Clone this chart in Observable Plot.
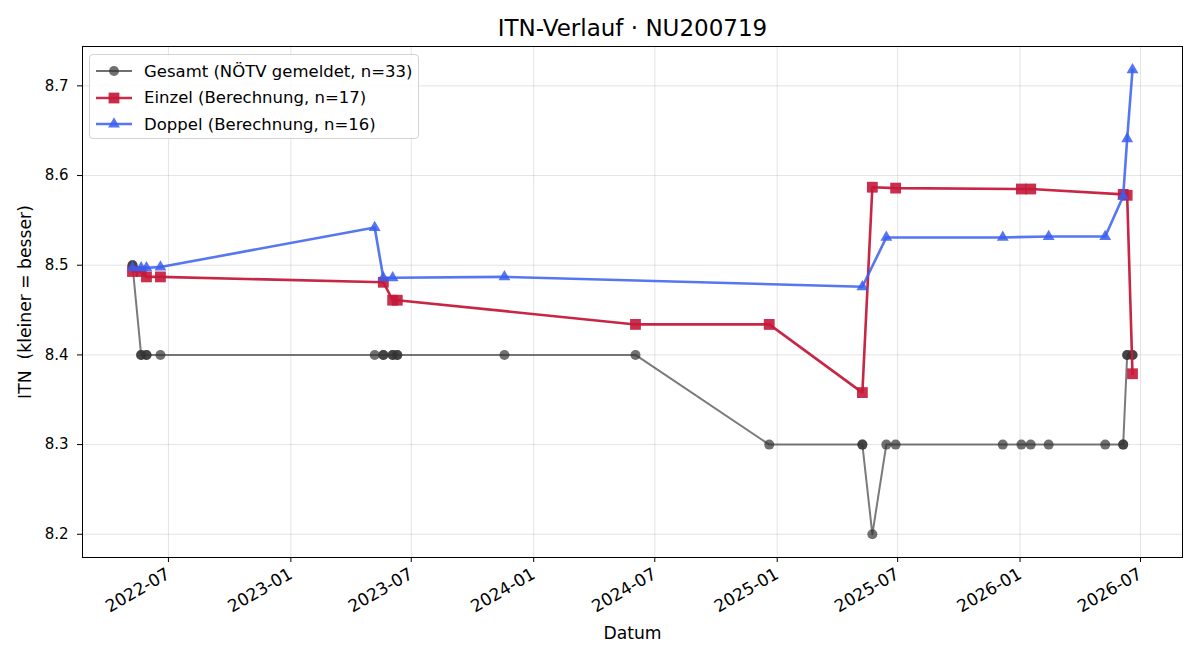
<!DOCTYPE html>
<html>
<head>
<meta charset="utf-8">
<script src="https://cdn.jsdelivr.net/npm/d3@7"></script>
<script src="https://cdn.jsdelivr.net/npm/@observablehq/plot@0.6"></script>
<style>
  body { margin: 0; background: #fff; }
  #wrap { position: relative; width: 1200px; height: 660px; font-family: "DejaVu Sans", sans-serif; }
  #legend { position: absolute; left: 89px; top: 54px; width: 330px; height: 85px; box-sizing: border-box;
            border: 1px solid #d3d3d3; border-radius: 4px; background: rgba(255,255,255,0.85); }
  .row { position: absolute; left: 5px; height: 20px; display: flex; align-items: center; font-size: 16.5px; color: #000; white-space: pre; }
  .row svg { margin-right: 11px; }
</style>
</head>
<body>
<div id="wrap"></div>
<script>
// ---------- data ----------
const gesamtDates = ["2022-05-08","2022-05-08","2022-05-21","2022-05-21","2022-05-29","2022-05-29","2022-06-19",
  "2023-05-07","2023-05-20","2023-05-20","2023-06-03","2023-06-03","2023-06-10","2023-06-10",
  "2023-11-18","2024-06-02","2024-12-20","2025-05-09","2025-05-09","2025-05-24","2025-06-14","2025-06-28",
  "2025-12-06","2026-01-03","2026-01-17","2026-02-13","2026-05-09","2026-06-05","2026-06-05",
  "2026-06-11","2026-06-11","2026-06-19","2026-06-19"];
const gesamtValues = [8.5,8.5,8.4,8.4,8.4,8.4,8.4,
  8.4,8.4,8.4,8.4,8.4,8.4,8.4,
  8.4,8.4,8.3,8.3,8.3,8.2,8.3,8.3,
  8.3,8.3,8.3,8.3,8.3,8.3,8.3,
  8.4,8.4,8.4,8.4];

const einzelDates = ["2022-05-08","2022-05-21","2022-05-29","2022-06-19","2023-05-20","2023-06-03","2023-06-10",
  "2024-06-02","2024-12-20","2025-05-09","2025-05-24","2025-06-28","2026-01-03","2026-01-17",
  "2026-06-05","2026-06-11","2026-06-19"];
const einzelValues = [8.493,8.493,8.487,8.487,8.481,8.461,8.461,
  8.434,8.434,8.358,8.587,8.586,8.585,8.585,
  8.579,8.578,8.379];

const doppelDates = ["2022-05-08","2022-05-21","2022-05-29","2022-06-19","2023-05-07","2023-05-20","2023-06-03",
  "2023-11-18","2025-05-09","2025-06-14","2025-12-06","2026-02-13","2026-05-09",
  "2026-06-05","2026-06-11","2026-06-19"];
const doppelValues = [8.497,8.497,8.497,8.498,8.542,8.486,8.486,
  8.487,8.476,8.531,8.531,8.532,8.532,
  8.577,8.641,8.718];

const xTickLabels = ["2022-07","2023-01","2023-07","2024-01","2024-07","2025-01","2025-07","2026-01","2026-07"];
const yTicks = [8.2, 8.3, 8.4, 8.5, 8.6, 8.7];

const seriesNames = ["Gesamt (NÖTV gemeldet, n=33)", "Einzel (Berechnung, n=17)", "Doppel (Berechnung, n=16)"];
const seriesColors = ["#333333", "#c41a3a", "#3a5ef0"];
const seriesSymbols = ["circle", "square", "triangle"];

const titleText = "ITN-Verlauf · NU200719";
const xLabel = "Datum";
const yLabel = "ITN\u00a0\u00a0(kleiner = besser)";

// ---------- tables ----------
const toRows = (dates, vals) => dates.map((d, i) => ({date: new Date(d + "T00:00:00Z"), v: vals[i]}));
const gesamt = toRows(gesamtDates, gesamtValues);
const einzel = toRows(einzelDates, einzelValues);
const doppel = toRows(doppelDates, doppelValues);
const all = [...gesamt, ...einzel, ...doppel];
const xTicks = xTickLabels.map(s => new Date(s + "-01T00:00:00Z"));

const [x0, x1] = d3.extent(all, d => +d.date);
const [y0, y1] = d3.extent(all, d => d.v);
const xPad = (x1 - x0) * 0.05, yPad = (y1 - y0) * 0.05;

const chart = Plot.plot({
  width: 1200, height: 660,
  marginLeft: 82, marginRight: 18, marginTop: 46, marginBottom: 103,
  style: {fontFamily: "DejaVu Sans, sans-serif", fontSize: "14.5px", color: "#000", background: "#fff"},
  x: {type: "utc", domain: [new Date(x0 - xPad), new Date(x1 + xPad)]},
  y: {domain: [y0 - yPad, y1 + yPad]},
  marks: [
    Plot.gridX(xTicks, {stroke: "#b0b0b0", strokeOpacity: 0.35}),
    Plot.gridY(yTicks, {stroke: "#b0b0b0", strokeOpacity: 0.35}),
    Plot.axisX(xTicks, {tickFormat: d3.utcFormat("%Y-%m"), tickRotate: -30, tickSize: 5, tickPadding: 10, label: null, fontSize: 17}),
    Plot.axisY(yTicks, {tickFormat: d => d.toFixed(1), tickSize: 5, tickPadding: 9, label: null, fontSize: 15}),
    // Gesamt
    Plot.line(gesamt, {x: "date", y: "v", stroke: seriesColors[0], strokeOpacity: 0.65, strokeWidth: 2}),
    Plot.dot(gesamt, {x: "date", y: "v", r: 5, symbol: seriesSymbols[0], fill: seriesColors[0], fillOpacity: 0.7, stroke: "none"}),
    // Einzel
    Plot.line(einzel, {x: "date", y: "v", stroke: seriesColors[1], strokeOpacity: 0.95, strokeWidth: 2.6}),
    Plot.dot(einzel, {x: "date", y: "v", r: 6.1, symbol: seriesSymbols[1], fill: seriesColors[1], fillOpacity: 0.9, stroke: "none"}),
    // Doppel
    Plot.line(doppel, {x: "date", y: "v", stroke: seriesColors[2], strokeOpacity: 0.85, strokeWidth: 2.6}),
    Plot.dot(doppel, {x: "date", y: "v", r: 4.4, symbol: seriesSymbols[2], fill: seriesColors[2], fillOpacity: 0.85, stroke: "none"}),
    Plot.frame({stroke: "#000", strokeWidth: 1}),
    Plot.text([titleText], {frameAnchor: "top", dy: -18, lineAnchor: "middle", fontSize: 23, fill: "#000"}),
    Plot.text([xLabel], {frameAnchor: "bottom", dy: 76, lineAnchor: "middle", fontSize: 17.2, fill: "#000"}),
    Plot.text([yLabel], {frameAnchor: "left", dx: -57, rotate: -90, textAnchor: "middle", lineAnchor: "middle", fontSize: 17.2, fill: "#000"})
  ]
});

const wrap = document.getElementById("wrap");
wrap.appendChild(chart);

// ---------- legend ----------
const legend = document.createElement("div");
legend.id = "legend";
const opac = [0.7, 0.92, 0.85];
seriesNames.forEach((name, i) => {
  const row = document.createElement("div");
  row.className = "row";
  row.style.top = (6 + i * 26.5) + "px";
  const sym = d3.symbol(d3["symbol" + seriesSymbols[i][0].toUpperCase() + seriesSymbols[i].slice(1)],
    Math.PI * [5, 6.1, 4.4][i] ** 2)();
  row.innerHTML = `<svg width="38" height="20"><line x1="1" x2="37" y1="10" y2="10" stroke="${seriesColors[i]}" stroke-opacity="${opac[i]}" stroke-width="${i ? 2.6 : 2}"/>` +
    `<path d="${sym}" transform="translate(19,10)" fill="${seriesColors[i]}" fill-opacity="${opac[i]}"/></svg><span>${name}</span>`;
  legend.appendChild(row);
});
wrap.appendChild(legend);
</script>
</body>
</html>
